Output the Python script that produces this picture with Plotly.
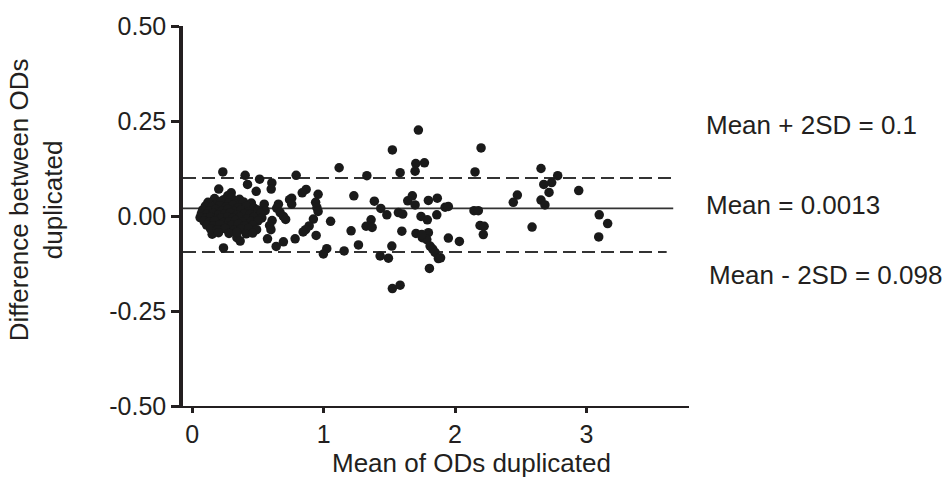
import plotly.graph_objects as go

# Scattered points (mean of ODs, difference)
mean_od = [
    0.233, 0.403, 0.513, 0.791, 1.118, 1.329, 0.421, 0.606, 0.601, 0.202,
    0.487, 0.297, 0.270, 0.867, 0.837, 0.958, 1.230, 1.386, 0.757, 0.741,
    0.757, 0.939, 0.949, 0.958, 0.548, 0.656, 0.643, 0.669, 0.694, 0.711,
    0.555, 0.608, 0.589, 0.599, 1.053, 0.922, 1.209, 1.361, 1.323, 1.369,
    0.890, 0.863, 0.844, 0.943, 0.573, 0.783, 0.694, 0.639, 1.265, 1.024,
    0.998, 1.156, 1.430, 1.493, 1.523, 1.582, 0.238, 0.152, 0.340, 0.365,
    1.523, 1.582, 1.701, 1.696, 1.767, 1.721, 1.435, 1.481, 1.569, 1.602,
    1.640, 1.675, 1.696, 1.741, 1.595, 1.703, 1.751, 1.519, 2.198, 2.152,
    1.797, 1.865, 1.924, 1.949, 1.861, 1.789, 2.144, 2.177, 2.190, 2.221,
    2.215, 1.949, 2.033, 1.797, 1.785, 1.810, 1.830, 1.848, 1.873, 1.890,
    1.805, 1.747, 2.654, 2.781, 2.735, 2.675, 2.715, 2.941, 2.474, 2.443,
    2.654, 2.684, 2.586, 3.097, 3.161, 3.093,
    # dense cluster at low OD
    0.17, 0.24, 0.30, 0.36,
    0.12, 0.19, 0.22, 0.28, 0.33, 0.39, 0.45,
    0.10, 0.15, 0.21, 0.26, 0.31, 0.35, 0.41, 0.47,
    0.08, 0.13, 0.18, 0.23, 0.27, 0.32, 0.37, 0.43, 0.50,
    0.07, 0.11, 0.16, 0.20, 0.25, 0.29, 0.34, 0.40, 0.44, 0.52,
    0.06, 0.10, 0.14, 0.19, 0.22, 0.27, 0.31, 0.36, 0.42, 0.47, 0.53,
    0.09, 0.13, 0.17, 0.24, 0.28, 0.33, 0.38, 0.45, 0.50,
    0.11, 0.16, 0.21, 0.26, 0.30, 0.35, 0.40, 0.46,
    0.14, 0.19, 0.25, 0.32, 0.37, 0.43, 0.49,
    0.20, 0.28, 0.34, 0.41, 0.46,
]
diff_od = [
    0.116, 0.107, 0.097, 0.107, 0.127, 0.106, 0.083, 0.087, 0.071, 0.071,
    0.065, 0.061, 0.053, 0.070, 0.061, 0.057, 0.053, 0.039, 0.047, 0.043,
    0.031, 0.036, 0.022, 0.012, 0.031, 0.031, 0.021, 0.009, -0.001, -0.009,
    0.014, -0.012, -0.025, -0.036, -0.014, -0.008, -0.039, -0.010, -0.027, -0.030,
    -0.026, -0.036, -0.042, -0.051, -0.060, -0.060, -0.068, -0.080, -0.076, -0.086,
    -0.100, -0.092, -0.105, -0.111, -0.191, -0.182, -0.084, -0.048, -0.057, -0.066,
    0.174, 0.114, 0.138, 0.118, 0.140, 0.226, 0.020, 0.003, 0.009, 0.005,
    0.040, 0.053, 0.029, -0.001, -0.040, -0.046, -0.057, -0.079, 0.179, 0.116,
    0.041, 0.047, 0.023, 0.025, 0.003, -0.010, 0.014, 0.014, -0.025, -0.027,
    -0.049, -0.058, -0.067, -0.044, -0.062, -0.079, -0.087, -0.096, -0.112, -0.110,
    -0.138, -0.049, 0.125, 0.106, 0.088, 0.083, 0.062, 0.067, 0.055, 0.036,
    0.042, 0.029, -0.029, 0.003, -0.020, -0.055,
    # dense cluster at low OD
    0.046, 0.043, 0.048, 0.044,
    0.036, 0.033, 0.038, 0.035, 0.031, 0.037, 0.034,
    0.026, 0.023, 0.027, 0.024, 0.028, 0.022, 0.025, 0.021,
    0.016, 0.013, 0.017, 0.014, 0.018, 0.012, 0.015, 0.011, 0.016,
    0.006, 0.004, 0.007, 0.003, 0.005, 0.008, 0.002, 0.006, 0.004, 0.007,
    -0.004, -0.006, -0.003, -0.007, -0.005, -0.002, -0.006, -0.004, -0.007, -0.003, -0.005,
    -0.014, -0.016, -0.013, -0.017, -0.015, -0.012, -0.016, -0.014, -0.013,
    -0.024, -0.026, -0.023, -0.027, -0.025, -0.022, -0.026, -0.024,
    -0.034, -0.036, -0.033, -0.037, -0.035, -0.033, -0.036,
    -0.044, -0.046, -0.043, -0.047, -0.045,
]

# Reference lines
line_x = [-0.07, 3.66]
mean_line = 0.02
upper_line = 0.10
lower_line = -0.095
lower_line_x = [-0.07, 3.61]

y_ticks = [-0.5, -0.25, 0.0, 0.25, 0.5]
y_tick_labels = ["-0.50", "-0.25", "0.00", "0.25", "0.50"]
x_ticks = [0, 1, 2, 3]
x_tick_labels = ["0", "1", "2", "3"]

labels = ["Mean + 2SD = 0.1", "Mean = 0.0013", "Mean - 2SD = 0.098"]

FONT = "Liberation Sans, Arial, sans-serif"
TXT = "#231f20"

fig = go.Figure()
fig.add_trace(go.Scatter(x=line_x, y=[mean_line, mean_line], mode="lines",
                         line=dict(color="#333333", width=1.6), hoverinfo="skip"))
fig.add_trace(go.Scatter(x=line_x, y=[upper_line, upper_line], mode="lines",
                         line=dict(color="#333333", width=2, dash="13px,6px"), hoverinfo="skip"))
fig.add_trace(go.Scatter(x=lower_line_x, y=[lower_line, lower_line], mode="lines",
                         line=dict(color="#333333", width=2, dash="13px,6px"), hoverinfo="skip"))
fig.add_trace(go.Scatter(x=mean_od, y=diff_od, mode="markers",
                         marker=dict(color="#1a1a1a", size=9.5, line=dict(width=0))))

fig.update_layout(
    width=950, height=486,
    margin=dict(l=183, r=261, t=20, b=80),
    paper_bgcolor="white", plot_bgcolor="white",
    showlegend=False,
    font=dict(family=FONT, color=TXT, size=25),
    xaxis=dict(range=[-0.07, 3.78], tickvals=x_ticks, ticktext=x_tick_labels,
               showgrid=False, zeroline=False, showline=True, linecolor="#231f20",
               linewidth=2, ticks="outside", ticklen=5, tickwidth=2.5, tickcolor="#231f20",
               tickfont=dict(size=25, family=FONT, color=TXT)),
    yaxis=dict(range=[-0.5, 0.5], tickvals=y_ticks, ticktext=y_tick_labels,
               showgrid=False, zeroline=False, showline=True, linecolor="#231f20",
               linewidth=3.5, ticks="outside", ticklen=8, tickwidth=3, tickcolor="#231f20",
               tickfont=dict(size=25, family=FONT, color=TXT)),
)

# Axis titles as annotations for exact placement
fig.add_annotation(text="Mean of ODs duplicated", xref="paper", yref="paper",
                   x=(471 - 183) / 506, y=-(464 - 406) / 386, showarrow=False,
                   xanchor="center", yanchor="middle", font=dict(size=26, family=FONT, color=TXT))
fig.add_annotation(text="Difference between ODs<br>duplicated", xref="paper", yref="paper",
                   x=(36 - 183) / 506, y=(406 - 197) / 386, showarrow=False, textangle=-90,
                   xanchor="center", yanchor="middle", font=dict(size=26, family=FONT, color=TXT))

label_y = [120.7, 201.7, 273.0]
label_x = [704, 704, 707]
for t, lx, ly in zip(labels, label_x, label_y):
    fig.add_annotation(text=t, xref="paper", yref="paper",
                       x=(lx - 183) / 506, y=(406 - ly) / 386, showarrow=False,
                       xanchor="left", yanchor="middle", font=dict(size=26, family=FONT, color=TXT))

fig.write_html("out.html", config={"displayModeBar": False},
               post_script="document.body.style.margin='0';document.body.style.overflow='hidden';")
